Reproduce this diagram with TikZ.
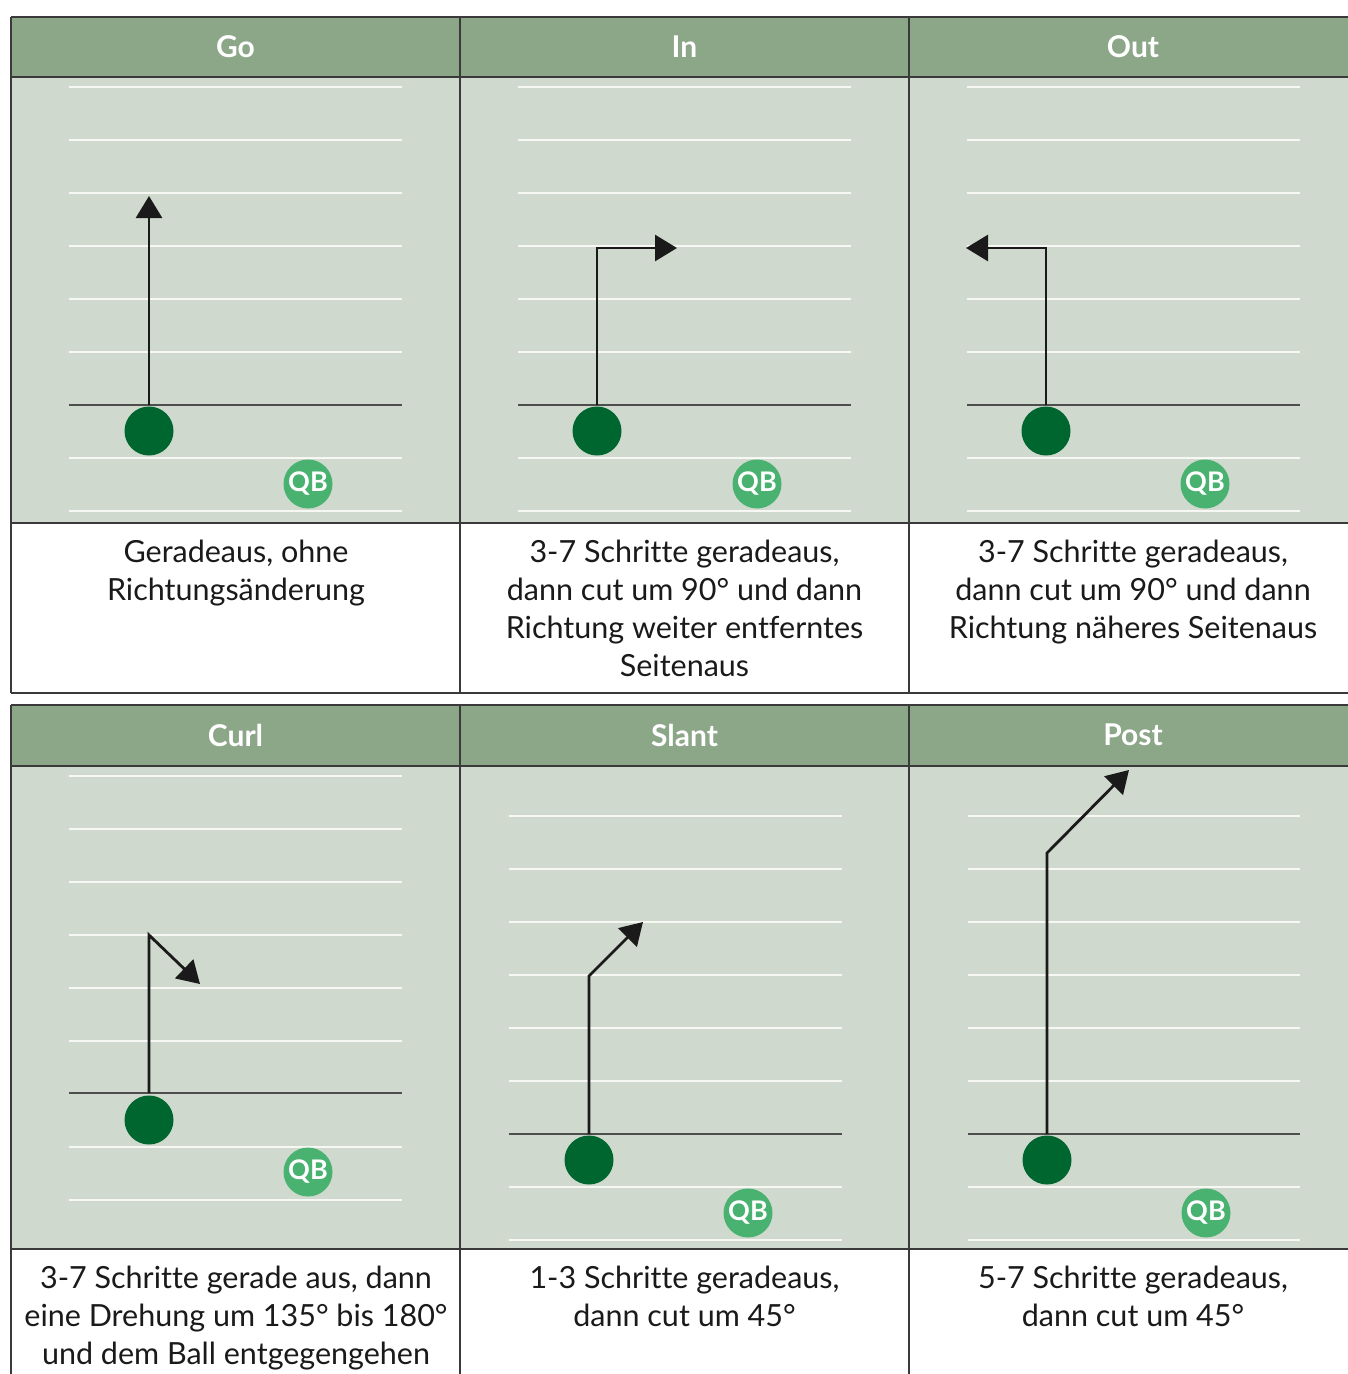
\documentclass[tikz,border=0pt]{standalone}
\usepackage{fontspec}
\setmainfont{Lato}[Ligatures=NoCommon]
\usetikzlibrary{arrows.meta}
\definecolor{hdr}{HTML}{8CA688}
\definecolor{fld}{HTML}{D0D9CD}
\definecolor{dotc}{HTML}{00662F}
\definecolor{qbc}{HTML}{4AB271}
\definecolor{bord}{HTML}{3A3A3A}
\definecolor{ink}{HTML}{1A1A1A}
\definecolor{yard}{HTML}{F7F8F4}
\begin{document}
\begin{tikzpicture}[x=1pt,y=-1pt,
  hdrtext/.style={text=white, font=\fontsize{30}{32}\selectfont\bfseries, inner sep=0},
  desc/.style={font=\fontsize{30.5}{38}\selectfont, align=center, anchor=north, inner sep=0, text=ink},
  player/.style={circle, fill=dotc, minimum size=49pt, inner sep=0},
  qbnode/.style={circle, fill=qbc, minimum size=49pt, inner sep=0, text=white, font=\fontsize{27}{27}\selectfont\bfseries},
  route/.style={draw=ink, line width=2.8pt, line join=miter, -{Triangle[length=22pt,width=26pt]}},
  yardline/.style={draw=yard, line width=1.8pt},
  scrim/.style={draw=bord!90, line width=2.2pt},
  grid/.style={draw=bord, line width=1.8pt}]
\useasboundingbox (0,0) rectangle (1348,1374);
% ---------- backgrounds ----------
\fill[white] (0,0) rectangle (1348,1374);
\fill[hdr] (11,17) rectangle (1348,77);
\fill[fld] (11,77) rectangle (1348,523);
\fill[hdr] (11,705) rectangle (1348,766);
\fill[fld] (11,766) rectangle (1348,1249);
% ---------- yard lines top ----------
\foreach \ox in {11,460,909}{
  \foreach \k in {0,1,2,3,4,5,7,8}{
    \draw[yardline] ({\ox+58},{87+53*\k}) -- ({\ox+391},{87+53*\k});
  }
  \draw[scrim] ({\ox+58},405) -- ({\ox+391},405);
}
% ---------- yard lines bottom ----------
\foreach \k in {0,1,2,3,4,5,7,8}{
  \draw[yardline] (69,{776+53*\k}) -- (402,{776+53*\k});
  \draw[yardline] (509,{816+53*\k}) -- (842,{816+53*\k});
  \draw[yardline] (968,{816+53*\k}) -- (1300,{816+53*\k});
}
\draw[scrim] (69,1093) -- (402,1093);
\draw[scrim] (509,1134) -- (842,1134);
\draw[scrim] (968,1134) -- (1300,1134);
% ---------- grid ----------
\foreach \y in {17,77,523,693,705,766,1249}{\draw[grid] (11,\y) -- (1349,\y);}
\foreach \x in {11,460,909}{
  \draw[grid] (\x,17) -- (\x,693);
  \draw[grid] (\x,705) -- (\x,1375);
}
% ---------- headers ----------
\node[hdrtext] (hGo) at (235.5,47) {Go};
\node[hdrtext] (hIn) at (684.5,47) {In};
\node[hdrtext] (hOut) at (1133,47) {Out};
\node[hdrtext] (hCurl) at (235.5,735) {Curl};
\node[hdrtext] (hSlant) at (684.5,735) {Slant};
\node[hdrtext] (hPost) at (1133,735) {Post};
% ---------- routes ----------
\coordinate (goA) at (149,405);   \coordinate (goT) at (149,196);
\coordinate (inA) at (597,405);   \coordinate (inB) at (597,248);  \coordinate (inT) at (677,248);
\coordinate (outA) at (1046,405); \coordinate (outB) at (1046,248); \coordinate (outT) at (966,248);
\coordinate (cuA) at (149,1093);  \coordinate (cuB) at (149,935);  \coordinate (cuT) at (200,984);
\coordinate (slA) at (589,1134);  \coordinate (slB) at (589,976);  \coordinate (slT) at (643,922);
\coordinate (poA) at (1047,1134); \coordinate (poB) at (1047,853); \coordinate (poT) at (1129,770);
\draw[route] (goA) -- (goT);
\draw[route] (inA) -- (inB) -- (inT);
\draw[route] (outA) -- (outB) -- (outT);
\draw[route] (cuA) -- (cuB) -- (cuT);
\draw[route] (slA) -- (slB) -- (slT);
\draw[route] (poA) -- (poB) -- (poT);
% ---------- players ----------
\node[player] (pGo) at (149,431) {};
\node[player] (pIn) at (597,431) {};
\node[player] (pOut) at (1046,431) {};
\node[player] (pCurl) at (149,1120) {};
\node[player] (pSlant) at (589,1160) {};
\node[player] (pPost) at (1047,1160) {};
\node[qbnode] (qGo) at (308,484) {QB};
\node[qbnode] (qIn) at (757,484) {QB};
\node[qbnode] (qOut) at (1205,484) {QB};
\node[qbnode] (qCurl) at (308,1172) {QB};
\node[qbnode] (qSlant) at (748,1213) {QB};
\node[qbnode] (qPost) at (1206,1213) {QB};
% ---------- descriptions ----------
\node[desc] (dGo) at (236,540) {Geradeaus, ohne\\Richtungsänderung};
\node[desc] (dIn) at (684.5,540) {3-7 Schritte geradeaus,\\dann cut um 90° und dann\\Richtung weiter entferntes\\Seitenaus};
\node[desc] (dOut) at (1133,540) {3-7 Schritte geradeaus,\\dann cut um 90° und dann\\Richtung näheres Seitenaus};
\node[desc] (dCurl) at (236,1266) {3-7 Schritte gerade aus, dann\\eine Drehung um 135° bis 180°\\und dem Ball entgegengehen};
\node[desc] (dSlant) at (684.5,1266) {1-3 Schritte geradeaus,\\dann cut um 45°};
\node[desc] (dPost) at (1133,1266) {5-7 Schritte geradeaus,\\dann cut um 45°};
\end{tikzpicture}
\end{document}
